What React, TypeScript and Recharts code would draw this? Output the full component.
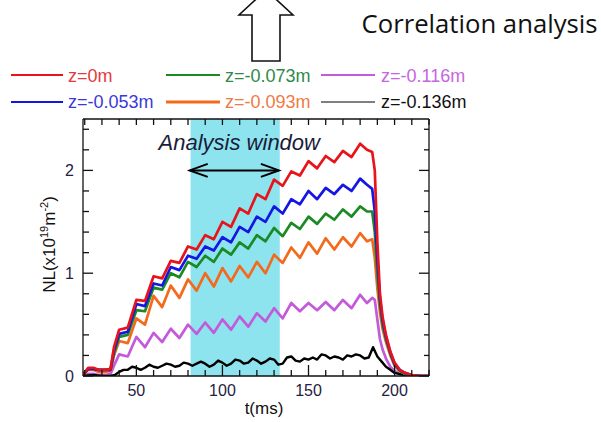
import React from 'react';
import {
  ComposedChart, Line, XAxis, YAxis, ReferenceArea, ReferenceLine, Legend, Label,
} from 'recharts';

// time (ms) for the five smooth traces
const tMain = [
  19, 22, 25, 28, 32, 35, 37, 40, 45, 50, 55, 60, 65, 70, 75, 80, 85, 90,
  95, 100, 105, 110, 115, 120, 125, 130, 135, 140, 145, 150, 155, 160, 165, 170, 175, 180,
  184, 187, 188.5, 190, 191.5, 193, 195, 197.5, 200, 203, 206, 210, 215, 220,
];

// NL (x10^19 m^-2) per chord position
const nlZ0 = [
  0.01, 0.08, 0.08, 0.06, 0.06, 0.07, 0.28, 0.45, 0.47, 0.74, 0.73, 0.97, 0.95, 1.12, 1.10, 1.26, 1.23, 1.37,
  1.33, 1.50, 1.45, 1.63, 1.58, 1.77, 1.72, 1.91, 1.85, 1.99, 1.95, 2.09, 2.02, 2.14, 2.08, 2.19, 2.13, 2.26,
  2.20, 2.18, 2.00, 1.30, 0.80, 0.58, 0.40, 0.24, 0.13, 0.06, 0.03, 0.01, 0, 0,
];
const nlZ053 = [
  0.01, 0.07, 0.07, 0.06, 0.06, 0.06, 0.25, 0.41, 0.43, 0.70, 0.68, 0.90, 0.88, 1.06, 1.03, 1.17, 1.14, 1.26,
  1.22, 1.35, 1.30, 1.45, 1.40, 1.55, 1.50, 1.65, 1.58, 1.72, 1.67, 1.80, 1.72, 1.83, 1.77, 1.86, 1.80, 1.92,
  1.86, 1.82, 1.60, 1.15, 0.75, 0.55, 0.38, 0.23, 0.12, 0.06, 0.03, 0.01, 0, 0,
];
const nlZ073 = [
  0.01, 0.07, 0.07, 0.06, 0.06, 0.06, 0.22, 0.38, 0.40, 0.64, 0.63, 0.86, 0.84, 1.00, 0.96, 1.11, 1.06, 1.17,
  1.11, 1.24, 1.18, 1.30, 1.24, 1.37, 1.31, 1.44, 1.36, 1.49, 1.43, 1.55, 1.48, 1.58, 1.52, 1.62, 1.55, 1.65,
  1.60, 1.60, 1.40, 1.00, 0.70, 0.50, 0.36, 0.22, 0.11, 0.05, 0.02, 0.01, 0, 0,
];
const nlZ093 = [
  0.01, 0.06, 0.06, 0.04, 0.04, 0.05, 0.20, 0.34, 0.32, 0.56, 0.50, 0.78, 0.67, 0.88, 0.76, 0.94, 0.83, 1.00,
  0.87, 1.05, 0.92, 1.07, 0.96, 1.11, 1.00, 1.18, 1.10, 1.25, 1.15, 1.30, 1.19, 1.34, 1.23, 1.35, 1.26, 1.39,
  1.31, 1.33, 1.15, 0.85, 0.62, 0.46, 0.33, 0.20, 0.10, 0.05, 0.02, 0.01, 0, 0,
];
const nlZ116 = [
  0.00, 0.02, 0.02, 0.01, 0.01, 0.02, 0.10, 0.21, 0.19, 0.38, 0.28, 0.42, 0.33, 0.46, 0.37, 0.50, 0.41, 0.52,
  0.42, 0.55, 0.45, 0.58, 0.48, 0.61, 0.53, 0.66, 0.56, 0.71, 0.63, 0.71, 0.64, 0.72, 0.64, 0.74, 0.66, 0.79,
  0.71, 0.76, 0.74, 0.55, 0.36, 0.26, 0.17, 0.09, 0.05, 0.02, 0.01, 0, 0, 0,
];

// the outermost chord is noisy, sampled finer
const tEdge = [
  19, 25, 30, 35, 37.5,
  40, 42.5, 45, 47.5, 50, 52.5, 55, 57.5, 60, 62.5, 65, 67.5, 70, 72.5, 75,
  77.5, 80, 82.5, 85, 87.5, 90, 92.5, 95, 97.5, 100, 102.5, 105, 107.5, 110, 112.5,
  115, 117.5, 120, 122.5, 125, 127.5, 130, 132.5, 135, 137.5, 140, 142.5, 145, 147.5, 150,
  152.5, 155, 157.5, 160, 162.5, 165, 167.5, 170, 172.5, 175, 177.5, 180, 182.5, 185, 187.5,
  190, 192.5, 195, 197.5, 200, 205, 210, 220,
];
const nlZ136 = [
  0, 0.01, 0, 0, 0.01,
  0.04, 0.06, 0.06, 0.09, 0.08, 0.06, 0.08, 0.11, 0.09, 0.08, 0.10, 0.12, 0.11, 0.09, 0.10,
  0.13, 0.12, 0.10, 0.12, 0.14, 0.12, 0.09, 0.11, 0.15, 0.13, 0.10, 0.12, 0.16, 0.15, 0.12,
  0.13, 0.17, 0.15, 0.12, 0.14, 0.17, 0.16, 0.11, 0.12, 0.18, 0.19, 0.15, 0.14, 0.17, 0.16,
  0.18, 0.16, 0.21, 0.20, 0.17, 0.19, 0.18, 0.16, 0.20, 0.19, 0.21, 0.20, 0.17, 0.18, 0.28,
  0.19, 0.14, 0.09, 0.06, 0.03, 0.01, 0, 0,
];

const xTicks = [20, 30, 40, 50, 60, 70, 80, 90, 100, 110, 120, 130, 140, 150, 160, 170, 180, 190, 200, 210, 220];
const xLabels = [50, 100, 150, 200];
const yTicks = [0, 0.2, 0.4, 0.6, 0.8, 1, 1.2, 1.4, 1.6, 1.8, 2, 2.2, 2.4];
const yLabels = [0, 1, 2];

const windowStart = 81.5;
const windowEnd = 133.3;

const toRows = (t: number[], v: number[]) => t.map((time, i) => ({ t: time, nl: v[i] }));

const series = [
  { name: 'z=-0.116m', data: toRows(tMain, nlZ116), color: '#c35ad9', text: '#c665e0', width: 2.7, legendW: 2, col: 2, row: 0 },
  { name: 'z=-0.136m', data: toRows(tEdge, nlZ136), color: '#000000', text: '#111111', width: 2.4, legendW: 1, col: 2, row: 1 },
  { name: 'z=-0.093m', data: toRows(tMain, nlZ093), color: '#f36a1d', text: '#f07a45', width: 2.7, legendW: 3.2, col: 1, row: 1 },
  { name: 'z=-0.073m', data: toRows(tMain, nlZ073), color: '#1b8a24', text: '#2f8a48', width: 2.7, legendW: 2, col: 1, row: 0 },
  { name: 'z=-0.053m', data: toRows(tMain, nlZ053), color: '#1616e4', text: '#3a3ad8', width: 2.7, legendW: 2, col: 0, row: 1 },
  { name: 'z=0m', data: toRows(tMain, nlZ0), color: '#e8141c', text: '#e43a40', width: 2.7, legendW: 2, col: 0, row: 0 },
];

const FONT = '"Liberation Sans", Arial, sans-serif';
const tickColor = '#1f2240';
const axisStroke = { stroke: '#111', strokeWidth: 1.3 };

const legendCols = [
  { l0: 11, l1: 63, tx: 68 },
  { l0: 166, l1: 220, tx: 225 },
  { l0: 321, l1: 375, tx: 381 },
];
const legendRows = [{ ly: 75, by: 81.5 }, { ly: 102, by: 108.3 }];

const renderLegend = () => (
  <svg width={601} height={1} style={{ position: 'absolute', left: 0, top: 0, overflow: 'visible' }}>
    {series.map((s) => {
      const c = legendCols[s.col];
      const r = legendRows[s.row];
      return (
        <g key={s.name}>
          <line x1={c.l0} x2={c.l1} y1={r.ly} y2={r.ly} stroke={s.color} strokeWidth={s.legendW} />
          <text x={c.tx} y={r.by} fontSize={18} fontFamily={FONT} fill={s.text}>{s.name}</text>
        </g>
      );
    })}
  </svg>
);

const BottomTick = ({ x, y, payload }: any) => {
  const major = xLabels.includes(payload.value);
  return (
    <g>
      <line x1={x} x2={x} y1={y} y2={y - (major ? 11 : 6)} {...axisStroke} />
      {major && (
        <text x={x} y={y + 20} textAnchor="middle" fontSize={16} fontFamily={FONT} fill={tickColor}>
          {payload.value}
        </text>
      )}
    </g>
  );
};

const TopTick = ({ x, y }: any) => <line x1={x} x2={x} y1={y} y2={y + 6} {...axisStroke} />;

const LeftTick = ({ x, y, payload }: any) => {
  const major = yLabels.includes(payload.value);
  return (
    <g>
      <line x1={x} x2={x + (major ? 10 : 6)} y1={y} y2={y} {...axisStroke} />
      {major && (
        <text x={x - 9} y={y + 6} textAnchor="end" fontSize={16} fontFamily={FONT} fill={tickColor}>
          {payload.value}
        </text>
      )}
    </g>
  );
};

const RightTick = ({ x, y, payload }: any) => {
  const major = yLabels.includes(payload.value);
  return <line x1={x} x2={x - (major ? 10 : 5)} y1={y} y2={y} {...axisStroke} />;
};

const DoubleArrow = ({ x1, y1, x2, y2 }: any) => (
  <g stroke="#000" strokeWidth={2} fill="none">
    <line x1={x1} y1={y1} x2={x2} y2={y2} />
    <polyline points={`${x1 + 18},${y1 - 6.5} ${x1},${y1} ${x1 + 18},${y1 + 6.5}`} />
    <polyline points={`${x2 - 18},${y2 - 6.5} ${x2},${y2} ${x2 - 18},${y2 + 6.5}`} />
  </g>
);

const WindowLabel = (p: any) => {
  const vb = p.viewBox ?? { x: 190.6, y: 119 };
  return (
    <text x={vb.x - 32} y={vb.y + 31} fontSize={22} fontStyle="italic" fontFamily={FONT} fill="#1a1c3a">
      Analysis window
    </text>
  );
};

const XTitle = (p: any) => {
  const vb = p.viewBox ?? { x: 83, y: 376, width: 346 };
  return (
    <text x={vb.x + vb.width / 2 + 8} y={vb.y + 37.5} textAnchor="middle" fontSize={17} fontFamily={FONT} fill="#111">
      t(ms)
    </text>
  );
};

const YTitle = (p: any) => {
  const vb = p.viewBox ?? { x: 82, y: 119, width: 1, height: 257 };
  const cx = vb.x + vb.width - 28;
  const cy = vb.y + vb.height / 2 - 3;
  return (
    <text x={cx} y={cy} transform={`rotate(-90, ${cx}, ${cy})`} textAnchor="middle" fontSize={17} fontFamily={FONT} fill="#111">
      NL(x10<tspan dy={-7} fontSize={11}>19</tspan><tspan dy={7}>m</tspan><tspan dy={-7} fontSize={11}>-2</tspan><tspan dy={7}>)</tspan>
    </text>
  );
};

export default function App() {
  return (
    <div style={{ position: 'absolute', left: 0, top: 0, width: 601, height: 422, background: '#fff', fontFamily: FONT }}>
      <ComposedChart width={601} height={422} margin={{ top: 118, right: 171, bottom: 45, left: 82 }}>
        <XAxis
          xAxisId="bottom" dataKey="t" type="number" domain={[19, 220]} allowDataOverflow
          ticks={xTicks} interval={0} height={1} tickSize={0} tickMargin={0} tickLine={false}
          axisLine={axisStroke} tick={<BottomTick />}
        >
          <Label content={<XTitle />} />
        </XAxis>
        <XAxis
          xAxisId="top" orientation="top" dataKey="t" type="number" domain={[19, 220]} allowDataOverflow
          ticks={xTicks} interval={0} height={1} tickSize={0} tickMargin={0} tickLine={false}
          axisLine={axisStroke} tick={<TopTick />}
        />
        <YAxis
          yAxisId="left" type="number" domain={[0, 2.5]} allowDataOverflow ticks={yTicks} interval={0}
          width={1} tickSize={0} tickMargin={0} tickLine={false} axisLine={axisStroke} tick={<LeftTick />}
        >
          <Label content={<YTitle />} />
        </YAxis>
        <YAxis
          yAxisId="right" orientation="right" type="number" domain={[0, 2.5]} allowDataOverflow ticks={yTicks}
          interval={0} width={1} tickSize={0} tickMargin={0} tickLine={false} axisLine={axisStroke} tick={<RightTick />}
        />
        <ReferenceArea
          xAxisId="bottom" yAxisId="left" x1={windowStart} x2={windowEnd}
          fill="#8de4ee" fillOpacity={1} stroke="none" ifOverflow="hidden"
          label={<WindowLabel />}
        />
        <ReferenceLine
          xAxisId="bottom" yAxisId="left"
          segment={[{ x: windowStart - 0.5, y: 2 }, { x: windowEnd - 0.5, y: 2 }]}
          shape={<DoubleArrow />}
        />
        {series.map((s) => (
          <Line
            key={s.name}
            xAxisId="bottom"
            yAxisId="left"
            data={s.data}
            dataKey="nl"
            name={s.name}
            type="linear"
            stroke={s.color}
            strokeWidth={s.width}
            strokeLinejoin="round"
            dot={false}
            activeDot={false}
            isAnimationActive={false}
          />
        ))}
        <Legend content={renderLegend} wrapperStyle={{ left: 0, top: 0, bottom: 'auto', width: 601, height: 0 }} />
      </ComposedChart>
      <svg width={601} height={120} style={{ position: 'absolute', left: 0, top: 0, pointerEvents: 'none' }}>
        <polygon
          points="252,61 280,61 280,15 293,15 266,-10 239,15 252,15"
          fill="#fff" stroke="#111" strokeWidth={1.6}
        />
        <text x={361.5} y={33} fontSize={25} fontFamily='"Open Sans", sans-serif' fill="#111" textLength={236} lengthAdjust="spacingAndGlyphs">
          Correlation analysis
        </text>
      </svg>
    </div>
  );
}
